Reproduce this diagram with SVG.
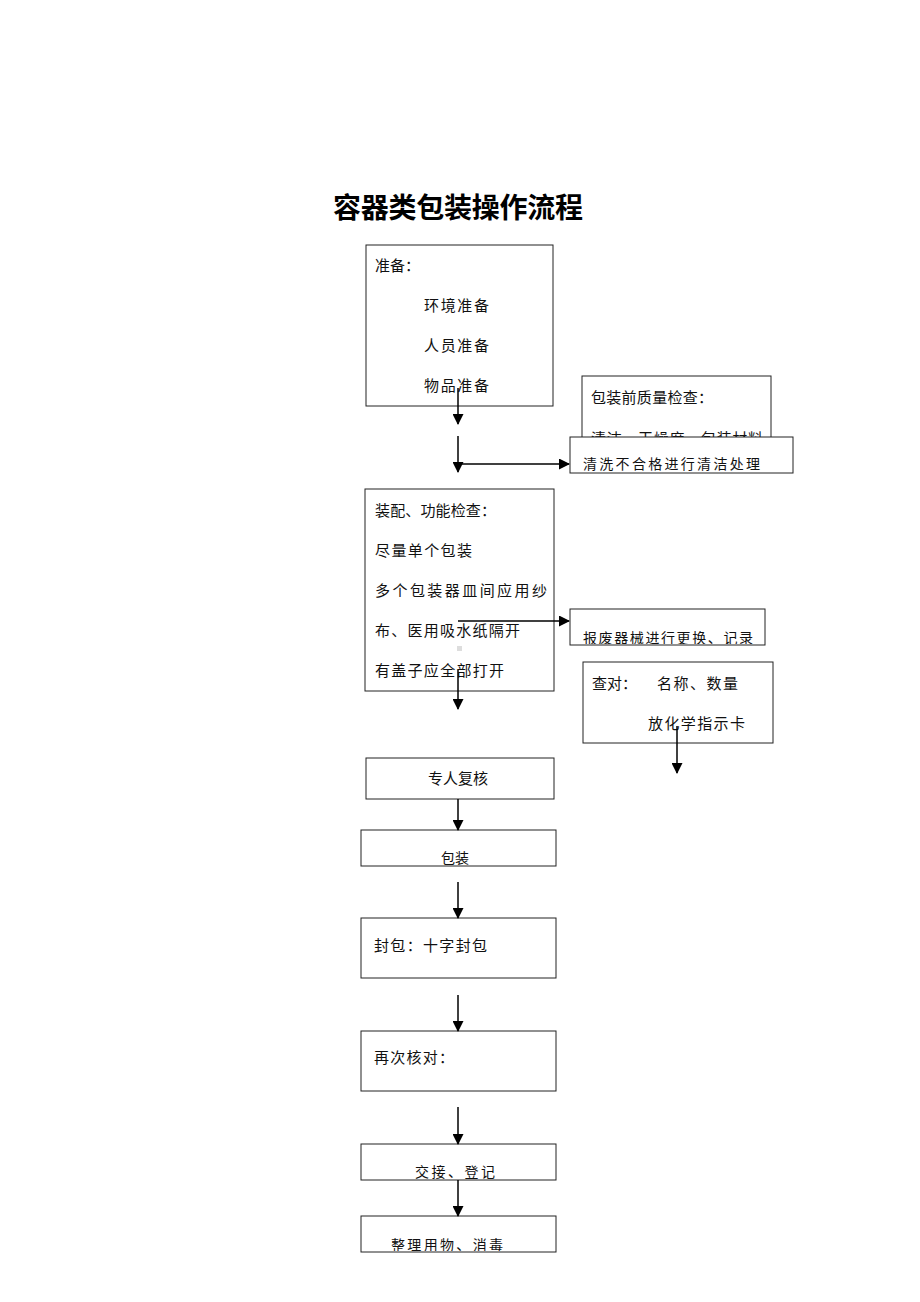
<svg xmlns="http://www.w3.org/2000/svg" width="920" height="1302" viewBox="0 0 920 1302">
<style>
.bx{fill:#fff;stroke:#222;stroke-width:1}
.t{font-family:"Noto Sans CJK SC",sans-serif;font-size:15px;fill:#111}
.s{font-family:"Noto Sans CJK SC",sans-serif;font-size:14px;fill:#111}
.ln{stroke:#000;stroke-width:1.5;fill:none}
</style>
<defs>
<marker id="ah" markerWidth="11" markerHeight="11" refX="10" refY="5.5" orient="auto" markerUnits="userSpaceOnUse"><path d="M0,0 L11,5.5 L0,11 Z" fill="#000"/></marker>
<clipPath id="c1"><rect x="570" y="437" width="223" height="36"/></clipPath>
<clipPath id="c2"><rect x="570" y="609" width="195" height="35"/></clipPath>
<clipPath id="c3"><rect x="361" y="830" width="195" height="35"/></clipPath>
<clipPath id="c4"><rect x="361" y="1144" width="195" height="35"/></clipPath>
<clipPath id="c5"><rect x="361" y="1216" width="195" height="35"/></clipPath>
<clipPath id="cq"><rect x="582" y="376" width="189" height="61"/></clipPath>
</defs>
<text x="458" y="218" text-anchor="middle" textLength="250" style="font-family:'Noto Sans CJK SC',sans-serif;font-size:28px;font-weight:bold" fill="#000">容器类包装操作流程</text>

<g id="n1">
<rect class="bx" x="366" y="245" width="187" height="161"/>
<text class="t" x="375" y="271">准备：</text>
<text class="t" x="424" y="311" textLength="65">环境准备</text>
<text class="t" x="424" y="351" textLength="65">人员准备</text>
<text class="t" x="424" y="391" textLength="65">物品准备</text>
</g>
<g id="n2">
<rect class="bx" x="582" y="376" width="189" height="80"/>
<text class="t" x="591" y="403" textLength="122">包装前质量检查：</text>
<text class="t" x="591" y="444" clip-path="url(#cq)" textLength="172">清洁、干燥度、包装材料</text>
</g>
<g id="n3">
<rect class="bx" x="570" y="437" width="223" height="36"/>
<text class="s" x="583" y="469" clip-path="url(#c1)" textLength="177">清洗不合格进行清洁处理</text>
</g>
<g id="n4">
<rect class="bx" x="365" y="489" width="189" height="202"/>
<text class="t" x="375" y="516" textLength="121">装配、功能检查：</text>
<text class="t" x="375" y="556" textLength="97">尽量单个包装</text>
<text class="t" x="375" y="596" textLength="172">多个包装器皿间应用纱</text>
<text class="t" x="375" y="636" textLength="145">布、医用吸水纸隔开</text>
<text class="t" x="375" y="676" textLength="129">有盖子应全部打开</text>
<rect x="457" y="646" width="5" height="5" fill="#ddd"/>
</g>
<g id="n5">
<rect class="bx" x="570" y="609" width="195" height="36"/>
<text class="s" x="583" y="643" clip-path="url(#c2)" textLength="170">报废器械进行更换、记录</text>
</g>
<g id="n6">
<rect class="bx" x="583" y="662" width="190" height="81"/>
<text class="t" x="592" y="689">查对：</text>
<text class="t" x="657" y="689" textLength="81">名称、数量</text>
<text class="t" x="648" y="729" textLength="97">放化学指示卡</text>
</g>
<g id="n7">
<rect class="bx" x="366" y="758" width="188" height="41"/>
<text class="t" x="458" y="784" text-anchor="middle">专人复核</text>
</g>
<g id="n8">
<rect class="bx" x="361" y="830" width="195" height="36"/>
<text class="s" x="455" y="863" text-anchor="middle" clip-path="url(#c3)">包装</text>
</g>
<g id="n9">
<rect class="bx" x="361" y="918" width="195" height="60"/>
<text class="t" x="374" y="951" textLength="113">封包：十字封包</text>
</g>
<g id="n10">
<rect class="bx" x="361" y="1031" width="195" height="60"/>
<text class="t" x="374" y="1063" textLength="80">再次核对：</text>
</g>
<g id="n11">
<rect class="bx" x="361" y="1144" width="195" height="36"/>
<text class="s" x="415" y="1177" clip-path="url(#c4)" textLength="80">交接、登记</text>
</g>
<g id="n12">
<rect class="bx" x="361" y="1216" width="195" height="36"/>
<text class="s" x="391" y="1250" clip-path="url(#c5)" textLength="112">整理用物、消毒</text>
</g>

<g id="connectors">
<line class="ln" x1="458" y1="388" x2="458" y2="424" marker-end="url(#ah)"/>
<line class="ln" x1="458" y1="436" x2="458" y2="472" marker-end="url(#ah)"/>
<line class="ln" x1="458" y1="464" x2="569" y2="464" marker-end="url(#ah)"/>
<line class="ln" x1="458" y1="621" x2="569" y2="621" marker-end="url(#ah)"/>
<line class="ln" x1="458" y1="670" x2="458" y2="709" marker-end="url(#ah)"/>
<line class="ln" x1="677" y1="726" x2="677" y2="773" marker-end="url(#ah)"/>
<line class="ln" x1="458" y1="799" x2="458" y2="830" marker-end="url(#ah)"/>
<line class="ln" x1="458" y1="882" x2="458" y2="918" marker-end="url(#ah)"/>
<line class="ln" x1="458" y1="995" x2="458" y2="1031" marker-end="url(#ah)"/>
<line class="ln" x1="458" y1="1107" x2="458" y2="1144" marker-end="url(#ah)"/>
<line class="ln" x1="458" y1="1180" x2="458" y2="1216" marker-end="url(#ah)"/>
</g>
</svg>
